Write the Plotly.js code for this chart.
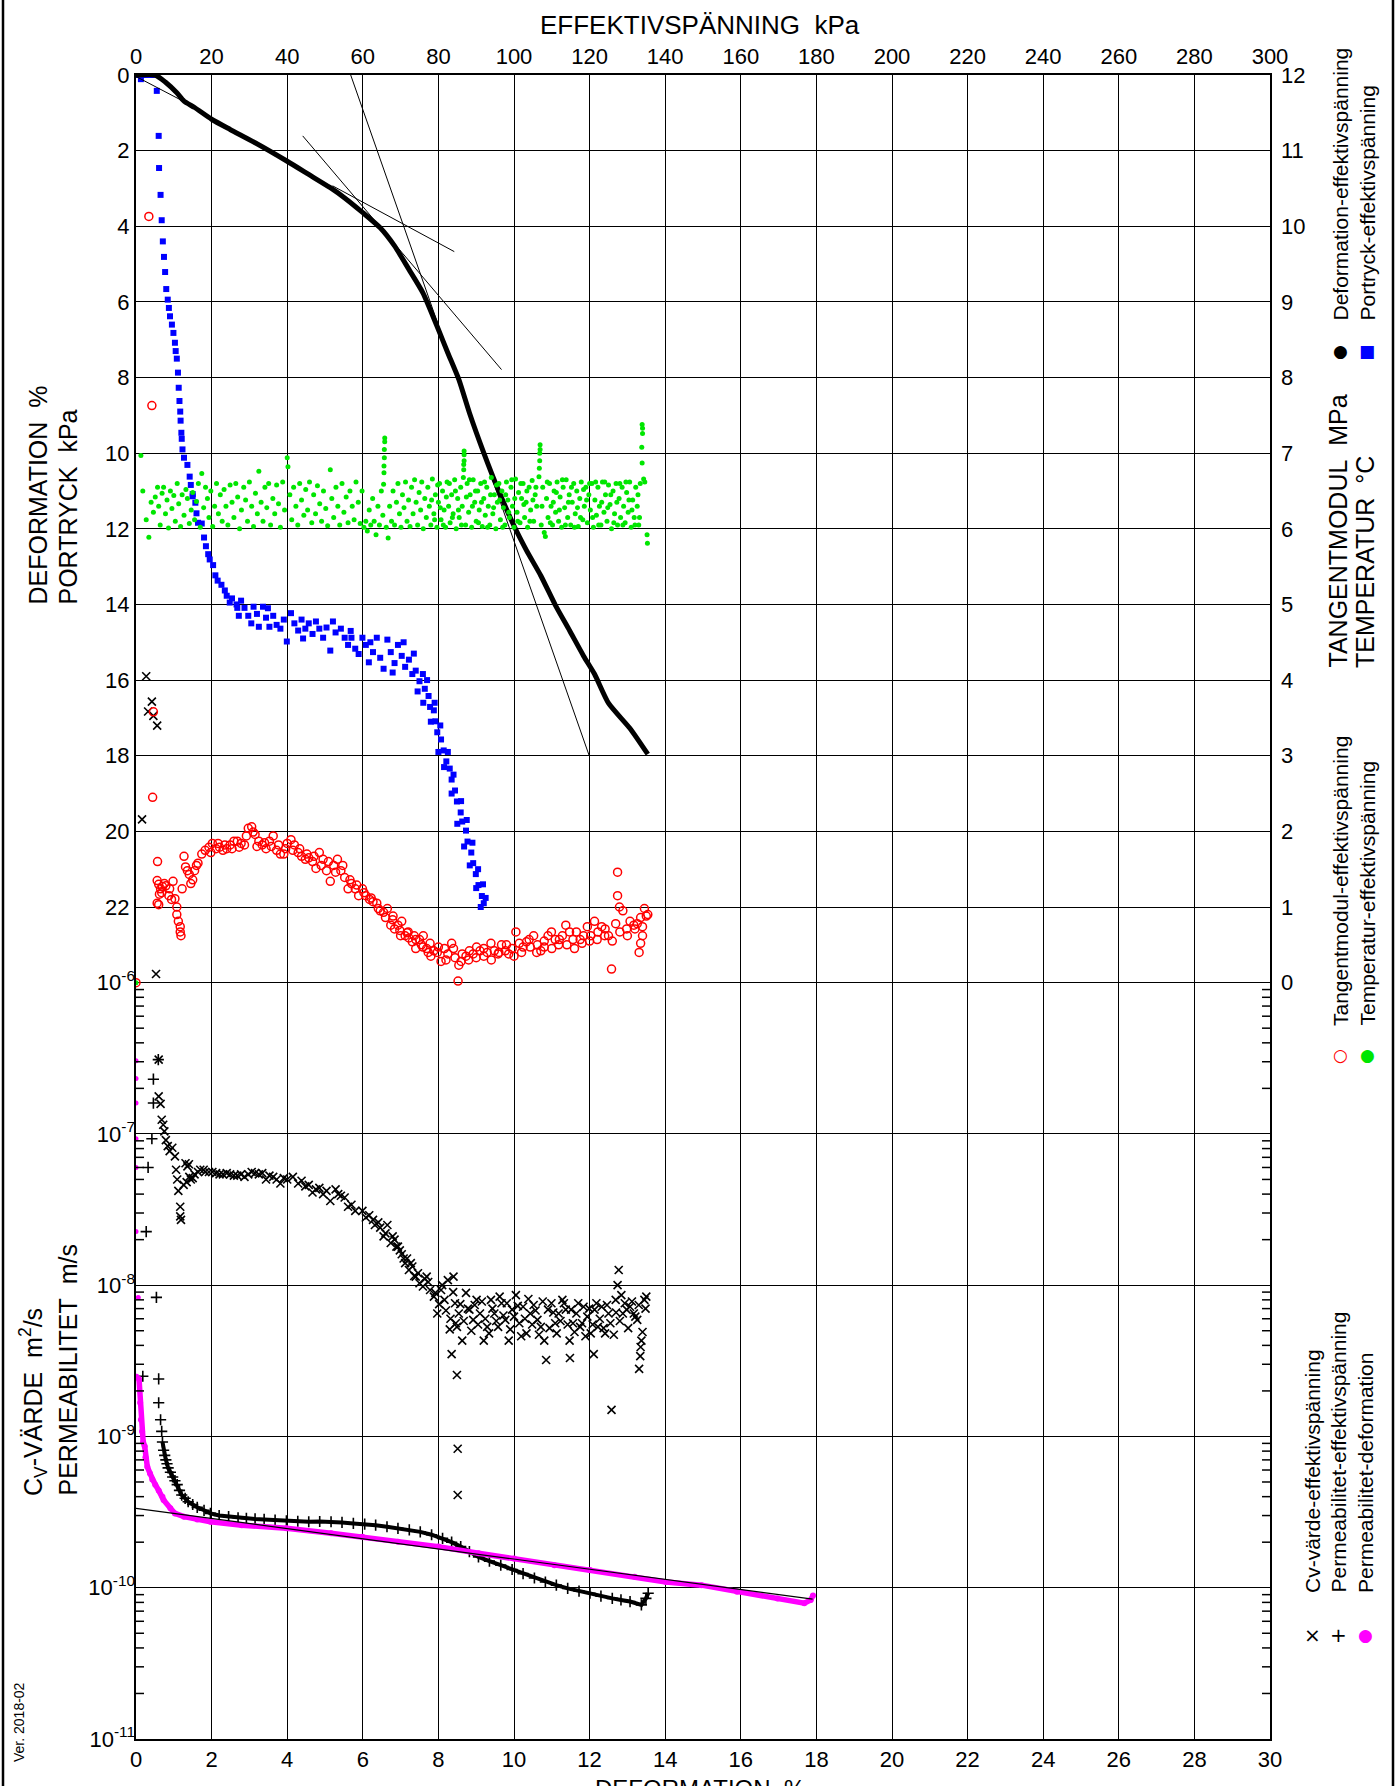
<!DOCTYPE html>
<html>
<head>
<meta charset="utf-8">
<script src="https://cdn.plot.ly/plotly-3.0.1.min.js"></script>
<style>
  html, body { margin: 0; padding: 0; background: #fff; }
  #chart { width: 1399px; height: 1786px; }
</style>
</head>
<body>
<div id="chart"></div>
<script>
// ---- Axis ticks -------------------------------------------------------
const stressTicks = [0, 20, 40, 60, 80, 100, 120, 140, 160, 180, 200, 220, 240, 260, 280, 300];
const deformationTicks = [0, 2, 4, 6, 8, 10, 12, 14, 16, 18, 20, 22, 24, 26, 28, 30];
const leftLinearTicks = [0, 2, 4, 6, 8, 10, 12, 14, 16, 18, 20, 22];
const rightTicks = [0, 1, 2, 3, 4, 5, 6, 7, 8, 9, 10, 11, 12];
const logTicks = [1e-6, 1e-7, 1e-8, 1e-9, 1e-10, 1e-11];
const logTickText = ['10<sup>-6</sup>', '10<sup>-7</sup>', '10<sup>-8</sup>', '10<sup>-9</sup>', '10<sup>-10</sup>', '10<sup>-11</sup>'];

// ---- Deformation (%) vs effective stress (kPa) -------------------------
const deformationCurve = [
  [0,0],[5.1,0],[7.9,0.2],[10.8,0.47],[12.7,0.69],[15.5,0.86],[20,1.17],[24.9,1.44],[31.5,1.79],
  [40,2.28],[45.7,2.63],[51.4,2.98],[55.2,3.25],[60,3.64],[64.6,4.04],[68.4,4.52],[72.2,5.14],
  [75.9,5.76],[80,6.73],[82.5,7.35],[85.4,8.05],[88.2,8.93],[92,9.99],[95.8,10.96],[99.9,11.9],
  [103.3,12.57],[107.1,13.24],[110.9,14.01],[114.7,14.69],[118.4,15.36],[121.3,15.84],[125,16.61],
  [130.7,17.28],[135.4,17.96]
];

// Construction lines drawn on the deformation curve
const tangentLines = [
  [[0, 0.04], [13.2, 0.73]],
  [[52, 2.93], [84.2, 4.67]],
  [[44.1, 1.61], [96.7, 7.79]],
  [[56.8, 0], [119.9, 18]]
];

// ---- Pore pressure (kPa) vs effective stress (kPa) ---------------------
const porePressure = [
  [0,0],[1.3,0.11],[2.3,0],[3.5,0],[4.5,0],[5.1,0],[5.5,0.42],[6.0,1.61],[6.1,2.46],[6.5,3.17],[6.8,3.84],
  [7.1,4.4],[7.4,4.81],[7.7,5.21],[8.0,5.66],[8.4,5.94],[8.7,6.16],[9.0,6.38],[9.5,6.6],[9.9,6.82],
  [10.3,7.08],[10.5,7.3],[10.8,7.5],[11.1,7.87],[11.3,8.27],[11.5,8.62],[11.7,8.9],[11.8,9.14],[12.0,9.46],
  [12.1,9.62],[12.3,9.9],[12.7,10.12],[13.6,10.31],[14.2,10.62],[14.5,10.84],[15.0,11.08],[15.0,11.14],
  [15.7,11.31],[16.0,11.59],[16.4,11.84],[17.4,11.86],[18.0,12.23],[18.5,12.46],[19.1,12.67],[19.5,12.81],
  [20.4,12.96],[21.0,13.23],[21.6,13.37],[22.6,13.48],[23.5,13.63],[24.0,13.77],[24.8,13.95],[25.4,13.84],
  [26.6,14.0],[27.8,13.9],[26.8,14.09],[27.2,14.3],[28.7,14.09],[29.7,14.3],[30.5,14.5],[31.1,14.06],
  [32.0,14.25],[33.6,14.06],[32.5,14.59],[34.4,14.35],[34.9,14.1],[35.3,14.59],[36.3,14.3],[37.2,14.54],
  [38.2,14.64],[39.1,14.4],[39.9,14.98],[41.0,14.23],[41.9,14.5],[42.9,14.69],[43.8,14.4],[44.2,14.9],
  [44.8,14.64],[45.7,14.5],[46.7,14.78],[47.6,14.45],[48.5,14.64],[49.5,14.88],[50.4,14.61],[51.4,15.22],
  [52.1,14.45],[52.8,14.74],[54.2,14.64],[55.2,14.88],[56.1,15.07],[56.8,14.7],[57.0,14.88],[58.0,15.17],
  [58.9,15.31],[59.9,14.88],[60.8,15.07],[61.6,15.53],[62.0,15.0],[62.7,15.26],[63.7,14.88],[64.6,15.41],
  [65.5,15.7],[66.5,14.93],[67.4,15.26],[67.9,15.8],[68.4,15.55],[69.3,15.07],[70.3,15.36],[70.8,15.0],
  [71.2,15.65],[72.2,15.46],[73.1,15.84],[73.5,15.3],[74.0,15.75],[74.5,16.3],[75.0,16.03],[75.9,15.84],
  [76.0,16.6],[76.4,16.23],[77.0,16.0],[77.4,16.42],[77.8,16.71],[78.0,17.1],[78.8,16.8],[79.0,16.6],
  [79.2,17.09],[79.7,17.38],[80.0,17.9],[80.5,17.2],[80.7,17.57],[81.4,17.86],[81.5,18.3],[82.1,18.15],
  [82.5,17.9],[83.0,18.34],[83.5,18.63],[83.5,19.0],[84.0,18.5],[84.4,18.92],[84.9,19.21],[85.0,19.8],
  [85.9,19.5],[86.0,19.2],[86.3,19.74],[86.8,20.4],[87.3,19.98],[87.5,19.7],[87.7,20.27],[88.3,20.9],
  [88.7,20.56],[89.0,20.3],[89.2,20.84],[89.9,21.13],[90.0,21.5],[90.5,21.0],[90.6,21.42],[91.2,22.0],
  [91.5,21.71],[91.8,21.4],[92.0,21.9],[92.5,21.76]
];

// ---- Tangent modulus (MPa) vs effective stress (kPa) -------------------
const tangentModulus = [
  [0,0],[3.4,10.13],[4.2,7.63],[4.6,3.58],[4.4,2.45],[5.7,1.60],[5.6,1.35],[6.0,1.30],[6.5,1.24],[7.0,1.27],
  [7.5,1.31],[7.9,1.28],[8.9,1.24],[9.8,1.34],[6.2,1.17],[6.8,1.19],[5.6,1.05],[6.0,1.03],[8.7,1.15],
  [9.4,1.10],[10.3,1.11],[10.8,1.00],[10.8,0.90],[11.2,0.81],[11.7,0.74],[11.7,0.67],[11.9,0.62],
  [12.2,1.24],[12.7,1.67],[13.1,1.53],[13.6,1.48],[14.1,1.43],[14.5,1.31],[15.0,1.36],[15.5,1.48],
  [16.0,1.55],[16.4,1.58],[17.4,1.70],[18.3,1.75],[19.3,1.79],[19.8,1.72],[20.2,1.84],[21.2,1.77],
  [21.7,1.84],[22.1,1.79],[23.0,1.75],[23.5,1.82],[24.0,1.77],[24.9,1.82],[25.4,1.77],[25.9,1.87],
  [26.8,1.87],[27.3,1.79],[27.8,1.84],[28.7,1.82],[29.2,1.94],[29.7,2.04],[30.6,2.06],[31.0,1.99],
  [31.5,1.96],[32.0,1.80],[32.5,1.87],[33.4,1.82],[34.0,1.85],[34.4,1.77],[35.3,1.87],[35.8,1.80],
  [36.3,1.94],[37.2,1.75],[37.7,1.82],[38.2,1.70],[39.1,1.70],[39.6,1.77],[40.0,1.84],[41.0,1.89],
  [41.5,1.75],[41.9,1.82],[42.9,1.72],[43.3,1.77],[43.8,1.67],[44.8,1.63],[45.2,1.70],[45.7,1.65],
  [46.7,1.60],[47.1,1.67],[47.6,1.51],[48.5,1.72],[49.0,1.55],[49.5,1.63],[50.4,1.48],[50.9,1.60],
  [51.4,1.34],[52.3,1.55],[52.8,1.46],[53.3,1.63],[54.2,1.48],[54.7,1.55],[55.2,1.39],[56.1,1.24],
  [56.6,1.36],[57.0,1.31],[58.0,1.24],[58.4,1.29],[58.9,1.15],[59.9,1.24],[60.3,1.19],[60.8,1.15],
  [61.8,1.10],[62.2,1.12],[62.7,1.07],[63.7,1.05],[64.1,0.98],[64.6,0.95],[65.5,0.93],[66.0,0.86],
  [66.5,0.98],[67.4,0.76],[67.9,0.83],[68.0,0.88],[68.4,0.71],[69.3,0.76],[69.8,0.69],[70.0,0.62],
  [70.3,0.81],[71.2,0.62],[71.7,0.66],[72.0,0.67],[72.2,0.59],[73.1,0.54],[73.6,0.62],[74.0,0.57],
  [74.0,0.45],[75.0,0.57],[75.5,0.50],[75.9,0.47],[76.0,0.62],[76.9,0.45],[77.3,0.40],[77.8,0.52],
  [78.0,0.35],[78.8,0.42],[79.7,0.40],[80.0,0.47],[80.7,0.28],[81.6,0.45],[82.0,0.30],[82.5,0.38],
  [83.5,0.52],[84.0,0.45],[84.4,0.33],[85.2,0.02],[85.4,0.23],[86.0,0.28],[86.3,0.38],[87.3,0.35],
  [88.0,0.30],[88.2,0.42],[89.2,0.38],[90.0,0.33],[90.1,0.47],[91.0,0.42],[92.0,0.35],[92.0,0.45],
  [92.9,0.40],[93.9,0.52],[94.0,0.30],[94.8,0.42],[95.8,0.38],[96.0,0.40],[96.7,0.50],[97.7,0.42],
  [98.0,0.50],[98.6,0.38],[99.5,0.45],[100.0,0.35],[100.5,0.67],[101.4,0.52],[102.0,0.40],[102.4,0.47],
  [103.3,0.54],[104.0,0.57],[104.3,0.47],[105.2,0.62],[106.0,0.40],[106.2,0.50],[107.1,0.42],[108.0,0.47],
  [108.0,0.55],[109.0,0.62],[109.9,0.67],[110.0,0.45],[110.9,0.57],[111.8,0.50],[112.0,0.57],[112.8,0.62],
  [113.7,0.76],[114.0,0.50],[114.7,0.67],[115.6,0.57],[116.0,0.45],[116.5,0.67],[117.5,0.57],[118.0,0.52],
  [118.4,0.62],[119.4,0.74],[120.0,0.55],[120.3,0.62],[121.3,0.81],[122.0,0.57],[122.2,0.67],[123.2,0.74],
  [124.0,0.62],[124.1,0.71],[125.0,0.62],[125.8,0.18],[126.0,0.55],[126.9,0.78],[127.4,1.46],[127.4,1.15],
  [127.9,1.00],[128.0,0.67],[128.8,0.95],[129.8,0.71],[130.0,0.62],[130.7,0.81],[131.7,0.76],[132.0,0.71],
  [132.6,0.78],[133.5,0.86],[134.0,0.62],[133.5,0.52],[133.1,0.40],[134.0,0.74],[134.5,0.98],[135.0,0.88],
  [135.4,0.90]
];

// ---- Temperature (°C) vs effective stress (kPa) ------------------------
const temperature = [
  [0,0],[1.3,6.97],[1.8,6.5],[2.7,6.12],[3.4,5.89],[4.0,6.35],[4.6,6.22],[5.1,6.42],[5.7,6.55],[6.0,6.3],
  [6.4,6.05],[6.9,6.47],[7.3,6.55],[7.8,6.2],[8.2,6.38],[8.6,6.01],[9.1,6.5],[9.5,6.27],[10.0,6.44],
  [10.4,6.1],[10.9,6.6],[11.3,6.33],[11.8,6.03],[12.2,6.45],[12.7,6.18],[13.2,6.52],[13.6,6.4],[14.1,6.07],
  [14.6,6.25],[15.0,6.48],[15.5,6.12],[16.0,6.36],[16.5,6.6],[17.0,6.02],[17.4,6.73],[17.9,6.28],
  [18.4,6.55],[18.9,6.4],[19.3,6.15],[19.8,6.5],[20.3,6.03],[20.8,6.3],[21.3,6.6],[21.8,6.2],[22.3,6.45],
  [22.8,6.1],[23.3,6.52],[23.8,6.3],[24.3,6.05],[24.9,6.58],[25.4,6.35],[25.9,6.15],[26.4,6.6],[26.9,6.42],
  [27.4,6.0],[27.9,6.25],[28.5,6.55],[29.0,6.38],[29.5,6.1],[30.0,6.62],[30.6,6.3],[31.1,6.03],[31.6,6.47],
  [32.1,6.2],[32.5,6.76],[33.1,6.35],[33.6,6.1],[34.1,6.55],[34.6,6.28],[35.1,6.6],[35.6,6.05],[36.2,6.4],
  [36.7,6.2],[37.2,6.58],[37.7,6.33],[38.2,6.02],[38.8,6.62],[39.3,6.25],[40.0,6.94],[40.2,6.82],
  [40.7,6.45],[41.2,6.12],[41.7,6.55],[42.3,6.3],[42.8,6.05],[43.3,6.6],[43.8,6.38],[44.4,6.18],[44.9,6.52],
  [45.4,6.25],[45.9,6.62],[46.5,6.08],[47.0,6.45],[47.5,6.2],[48.0,6.57],[48.6,6.33],[49.1,6.1],[49.6,6.5],
  [50.2,6.27],[50.7,6.04],[51.4,6.78],[51.8,6.4],[52.3,6.15],[52.9,6.55],[53.4,6.3],[53.9,6.05],[54.5,6.6],
  [55.0,6.22],[55.6,6.42],[56.1,6.08],[56.6,6.5],[57.2,6.3],[57.7,6.12],[58.2,6.62],[58.8,6.35],[59.3,6.07],
  [59.8,6.5],[60.3,6.02],[60.8,6.1],[61.2,5.97],[61.7,6.25],[62.1,6.05],[62.6,6.4],[63.0,6.1],[63.5,5.92],
  [64.0,6.3],[64.4,6.05],[64.9,6.5],[65.3,6.18],[65.8,7.2],[65.8,7.15],[65.7,7.05],[65.7,6.94],[65.6,6.83],
  [65.6,6.74],[65.5,6.59],[66.2,6.02],[66.7,5.88],[67.1,6.3],[67.6,6.1],[68.0,6.5],[68.4,6.05],[68.9,6.35],
  [69.3,6.6],[69.7,6.2],[70.1,6.02],[70.5,6.45],[70.9,6.28],[71.3,6.62],[71.7,6.1],[72.1,6.38],[72.5,6.03],
  [72.9,6.55],[73.3,6.2],[73.7,6.65],[74.1,6.35],[74.5,6.05],[74.9,6.48],[75.3,6.25],[75.6,6.62],[76.0,6.0],
  [76.4,6.4],[76.8,6.15],[77.2,6.55],[77.6,6.3],[78.0,6.05],[78.2,6.38],[78.4,6.66],[78.8,6.2],[79.0,6.12],
  [79.2,6.45],[79.6,6.02],[79.8,6.58],[80.0,6.35],[80.3,6.6],[80.5,6.28],[80.7,6.12],[81.1,6.5],[81.3,6.05],
  [81.5,6.25],[81.9,6.02],[82.1,6.42],[82.3,6.62],[82.7,6.3],[82.9,6.6],[83.1,6.08],[83.5,6.45],[83.7,6.15],
  [83.9,6.2],[84.3,6.65],[84.5,6.5],[84.7,6.0],[85.1,6.4],[85.3,6.25],[85.5,6.15],[85.9,6.55],[86.1,6.05],
  [86.3,6.3],[86.8,7.03],[86.8,6.98],[86.8,6.9],[86.7,6.85],[86.7,6.78],[86.6,6.68],[87.2,6.05],[87.4,6.42],
  [87.6,6.6],[88.0,6.22],[88.2,6.65],[88.4,6.45],[88.8,6.02],[89.0,6.3],[89.2,6.65],[89.6,6.35],[89.8,6.5],
  [90.0,6.1],[90.4,6.5],[90.6,6.08],[90.8,6.25],[91.2,6.6],[91.4,6.35],[91.6,6.03],[92.0,6.4],[92.2,6.62],
  [92.4,6.18],[92.8,6.55],[93.0,6.02],[93.2,6.3],[93.6,6.05],[93.8,6.45],[94.0,6.68],[94.4,6.2],[94.6,6.28],
  [94.8,6.45],[95.2,6.0],[95.4,6.58],[95.6,6.35],[96.0,6.6],[96.2,6.38],[96.4,6.12],[96.8,6.5],[97.0,6.02],
  [97.2,6.28],[97.6,6.05],[97.8,6.45],[98.0,6.62],[98.4,6.38],[98.6,6.22],[98.8,6.15],[99.2,6.55],[99.4,6.65],
  [99.6,6.3],[100.0,6.02],[100.2,6.4],[100.4,6.66],[100.8,6.22],[101.0,6.1],[101.2,6.48],[101.6,6.08],
  [101.8,6.6],[102.0,6.4],[102.4,6.6],[102.6,6.32],[102.8,6.15],[103.2,6.35],[103.4,6.5],[103.6,6.02],
  [104.0,6.55],[104.2,6.1],[104.4,6.25],[104.8,6.64],[105.0,6.38],[105.2,6.1],[105.6,6.45],[105.8,6.55],
  [106.0,6.3],[106.9,7.11],[106.9,7.05],[106.8,7.0],[106.8,6.9],[106.7,6.8],[106.6,6.69],[107.2,6.05],
  [107.4,6.3],[107.6,6.55],[108.0,5.95],[108.3,5.9],[108.6,6.4],[108.8,6.62],[109.0,6.15],[109.4,6.6],
  [109.6,6.08],[109.8,6.3],[110.2,6.05],[110.4,6.35],[110.6,6.5],[111.0,6.22],[111.2,6.48],[111.4,6.62],
  [111.8,6.1],[112.0,6.25],[112.2,6.42],[112.6,6.02],[112.8,6.65],[113.0,6.55],[113.4,6.28],[113.6,6.05],
  [113.8,6.65],[114.2,6.15],[114.4,6.35],[114.6,6.45],[115.0,6.05],[115.2,6.55],[115.4,6.35],[115.8,6.6],
  [116.0,6.02],[116.2,6.2],[116.6,6.5],[116.8,6.28],[117.0,6.03],[117.4,6.4],[117.6,6.15],[117.8,6.62],
  [118.2,6.12],[118.4,6.52],[118.6,6.3],[119.0,6.55],[119.2,6.38],[119.4,6.08],[119.8,6.45],[120.0,6.6],
  [120.2,6.25],[120.6,6.6],[120.8,6.15],[121.0,6.02],[121.4,6.38],[121.6,6.62],[121.8,6.18],[122.2,6.55],
  [122.4,6.05],[122.6,6.3],[123.0,6.05],[123.2,6.35],[123.4,6.62],[123.8,6.22],[124.0,6.62],[124.2,6.45],
  [124.6,6.1],[124.8,6.28],[125.0,6.58],[125.4,6.32],[125.6,6.45],[125.8,6.0],[126.2,6.5],[126.4,6.08],
  [126.6,6.2],[127.0,6.6],[127.2,6.35],[127.4,6.05],[127.8,6.4],[128.0,6.6],[128.2,6.15],[128.6,6.55],
  [128.8,6.05],[129.0,6.3],[129.4,6.08],[129.6,6.62],[129.8,6.48],[130.2,6.22],[130.4,6.38],[130.6,6.62],
  [131.0,6.02],[131.2,6.25],[131.4,6.38],[131.8,6.15],[132.0,6.05],[132.2,6.55],[132.6,6.3],[132.8,6.45],
  [133.0,6.05],[133.2,6.15],[133.4,6.6],[133.9,7.38],[134.0,7.33],[134.0,7.26],[133.8,7.08],[133.9,6.87],
  [134.3,6.66],[134.6,6.62],[135.2,5.92],[135.3,5.81]
];

// ---- Consolidation coefficient cv (m2/s) vs effective stress (kPa) -----
const cvValues = [
  [2.7,1.06e-4],[4.2,7.2e-5],[3.2,6.2e-5],[4.6,5.8e-5],[5.6,5.0e-5],[1.6,1.2e-5],[5.3,1.14e-6],
  [6.0,3.1e-7],[6.0,1.77e-7],[6.5,1.58e-7],[6.8,1.24e-7],[7.2,1.15e-7],[7.5,1.04e-7],[7.9,9.1e-8],
  [8.4,8.3e-8],[8.9,7.7e-8],[9.6,8.1e-8],[10.3,7.1e-8],[10.6,5.8e-8],[10.9,5.0e-8],[11.2,4.2e-8],
  [11.7,3.3e-8],[11.9,2.7e-8],[11.7,2.85e-8],[12.6,4.6e-8],[13.1,6.4e-8],[13.4,4.8e-8],[13.6,6.1e-8],
  [14.0,6.3e-8],[14.1,5.2e-8],[14.5,5.0e-8],[15.0,5.1e-8],[15.5,5.4e-8],[16.4,5.6e-8],[17.0,5.8e-8],
  [17.9,5.8e-8],[18.3,5.6e-8],[19.3,5.6e-8],[20.2,5.6e-8],[21.2,5.5e-8],[22.1,5.4e-8],[23.0,5.4e-8],
  [24.0,5.5e-8],[24.9,5.4e-8],[25.9,5.3e-8],[26.8,5.3e-8],[27.8,5.4e-8],[28.7,5.2e-8],[29.7,5.4e-8],
  [30.6,5.6e-8],[31.5,5.5e-8],[32.5,5.4e-8],[33.4,5.5e-8],[34.4,5.0e-8],[35.3,5.3e-8],[36.3,5.2e-8],
  [37.2,5.0e-8],[38.2,4.7e-8],[39.1,5.1e-8],[40.0,5.0e-8],[41.5,5.2e-8],[42.9,4.7e-8],[43.8,4.9e-8],
  [44.8,4.5e-8],[45.7,4.6e-8],[46.7,4.1e-8],[47.6,4.3e-8],[48.5,4.4e-8],[49.5,4.0e-8],[50.4,4.2e-8],
  [51.4,3.6e-8],[52.8,4.3e-8],[53.5,4.0e-8],[54.2,3.9e-8],[55.2,3.8e-8],[56.1,3.3e-8],[57.0,3.4e-8],
  [58.0,3.1e-8],[59.9,3.1e-8],[60.8,2.8e-8],[61.7,2.9e-8],[62.7,2.7e-8],[63.2,2.5e-8],[64.1,2.6e-8],
  [64.6,2.4e-8],[65.5,2.1e-8],[66.0,2.2e-8],[66.5,2.5e-8],[67.4,1.9e-8],[67.9,2.1e-8],[68.4,2.0e-8],
  [68.9,1.8e-8],[69.3,1.8e-8],[69.8,1.7e-8],[70.3,1.6e-8],[70.8,1.5e-8],[71.2,1.4e-8],[71.7,1.5e-8],
  [72.2,1.26e-8],[72.7,1.4e-8],[73.1,1.33e-8],[73.6,1.15e-8],[74.0,1.14e-8],[74.6,1.2e-8],[75.0,1.03e-8],
  [75.9,9.8e-9],[76.4,1.1e-8],[76.9,1.14e-8],[77.3,1.05e-8],[77.8,9.3e-9],[78.8,8.4e-9],[79.2,8.9e-9],
  [79.7,6.5e-9],[80.2,7.5e-9],[80.7,9.3e-9],[81.0,1.0e-8],[81.6,8.0e-9],[82.0,6.8e-9],[82.5,1.08e-8],
  [83.0,5.1e-9],[83.2,6.0e-9],[83.5,3.5e-9],[83.9,9.0e-9],[84.0,1.14e-8],[84.4,7.6e-9],[84.6,5.6e-9],
  [84.9,2.55e-9],[84.9,5.3e-9],[85.1,8.3e-10],[85.1,4.1e-10],[85.4,6.5e-9],[85.8,7.5e-9],[86.3,4.3e-9],
  [86.7,5.8e-9],[87.3,8.9e-9],[87.8,7.0e-9],[88.2,6.9e-9],[88.7,5.0e-9],[89.2,5.9e-9],[89.6,7.4e-9],
  [90.1,8.0e-9],[90.5,5.5e-9],[91.0,6.5e-9],[91.5,7.8e-9],[92.0,4.3e-9],[92.4,6.0e-9],[92.9,5.3e-9],
  [93.4,4.8e-9],[93.9,8.0e-9],[94.3,7.0e-9],[94.8,6.5e-9],[95.3,5.8e-9],[95.8,5.3e-9],[96.2,8.4e-9],
  [96.7,7.6e-9],[97.2,6.3e-9],[97.7,5.9e-9],[98.1,7.6e-9],[98.6,4.3e-9],[99.0,5.1e-9],[99.5,6.9e-9],
  [100.0,6.2e-9],[100.5,8.6e-9],[101.0,7.3e-9],[101.4,5.6e-9],[101.9,4.6e-9],[102.4,7.2e-9],[102.9,6.0e-9],
  [103.3,4.8e-9],[103.8,8.1e-9],[104.3,6.5e-9],[104.8,5.5e-9],[105.2,7.4e-9],[105.7,6.8e-9],[106.2,5.9e-9],
  [106.6,4.7e-9],[107.1,5.3e-9],[107.6,7.8e-9],[108.0,4.3e-9],[108.5,3.2e-9],[109.0,6.9e-9],[109.4,5.2e-9],
  [109.9,7.6e-9],[110.4,6.6e-9],[110.9,5.6e-9],[111.3,4.8e-9],[111.8,6.5e-9],[112.3,5.8e-9],[112.8,8.0e-9],
  [113.2,7.6e-9],[113.7,6.9e-9],[114.2,5.5e-9],[114.7,4.3e-9],[114.8,3.3e-9],[115.1,6.9e-9],[115.6,5.6e-9],
  [116.0,4.9e-9],[116.5,6.5e-9],[117.0,7.6e-9],[117.5,5.3e-9],[118.0,5.6e-9],[118.4,7.2e-9],[118.9,4.6e-9],
  [119.4,6.2e-9],[119.9,7.0e-9],[120.3,4.8e-9],[120.8,5.5e-9],[121.1,3.5e-9],[121.3,6.9e-9],[121.8,7.6e-9],
  [122.2,5.3e-9],[122.7,6.0e-9],[123.2,7.2e-9],[123.7,5.2e-9],[124.1,4.8e-9],[124.6,7.4e-9],[125.0,6.5e-9],
  [125.5,5.6e-9],[125.8,1.5e-9],[126.4,4.7e-9],[126.9,8.0e-9],[127.0,6.6e-9],[127.4,1.0e-8],[127.7,1.26e-8],
  [128.0,5.8e-9],[128.4,8.6e-9],[128.8,6.5e-9],[129.3,7.6e-9],[129.8,6.9e-9],[130.2,5.2e-9],[130.7,7.2e-9],
  [131.2,7.8e-9],[131.7,6.5e-9],[132.1,6.2e-9],[132.6,5.9e-9],[133.0,7.4e-9],[133.1,2.8e-9],[133.4,3.4e-9],
  [133.5,3.9e-9],[133.7,4.3e-9],[134.0,4.9e-9],[134.5,8.0e-9],[134.8,7.0e-9],[135.0,8.4e-9]
];

// ---- Permeability (m/s) vs effective stress (kPa) ----------------------
const permStressEarly = [
  [5.9,3.1e-7],[4.6,2.3e-7],[4.6,1.6e-7],[4.2,9.3e-8],[3.2,6.0e-8],[2.7,2.26e-8],[5.4,8.3e-9],
  [1.8,2.5e-9],[6.0,2.4e-9],[6.0,1.67e-9],[6.5,1.29e-9],[6.8,1.08e-9]
];
const permStress = [
  [7.0,9.2e-10],[7.3,8.1e-10],[7.6,7.5e-10],[7.9,7.0e-10],[8.2,6.6e-10],[8.5,6.2e-10],[9.1,5.8e-10],
  [9.7,5.4e-10],[10.3,5.1e-10],[10.9,4.8e-10],[11.5,4.4e-10],[12.1,4.1e-10],[13.0,3.9e-10],[13.8,3.7e-10],
  [15.0,3.55e-10],[16.2,3.4e-10],[18.0,3.25e-10],[19.7,3.1e-10],[22.0,3.0e-10],[24.5,2.95e-10],
  [27.0,2.9e-10],[29.2,2.87e-10],[31.5,2.85e-10],[33.9,2.83e-10],[36.8,2.8e-10],[39.8,2.77e-10],
  [42.8,2.75e-10],[45.7,2.73e-10],[48.6,2.74e-10],[51.6,2.73e-10],[54.5,2.7e-10],[57.5,2.66e-10],
  [60.5,2.63e-10],[63.4,2.59e-10],[66.4,2.53e-10],[69.3,2.47e-10],[72.3,2.41e-10],[75.2,2.34e-10],
  [78.2,2.24e-10],[81.1,2.12e-10],[83.5,2.0e-10],[85.9,1.87e-10],[88.2,1.73e-10],[90.6,1.6e-10],
  [93.5,1.5e-10],[96.5,1.41e-10],[99.5,1.32e-10],[102.4,1.24e-10],[105.4,1.16e-10],[108.3,1.09e-10],
  [111.2,1.04e-10],[114.2,9.9e-11],[117.2,9.5e-11],[120.1,9.2e-11],[123.0,8.8e-11],[126.0,8.5e-11],
  [128.3,8.3e-11],[130.7,8.1e-11],[133.7,7.7e-11],[134.9,8.5e-11],[135.5,9.2e-11]
];

// ---- Permeability (m/s) vs deformation (%) -----------------------------
const permDeformationEarly = [
  [0,3.05e-7],[0,2.32e-7],[0,1.6e-7],[0,9.3e-8],[0,6.0e-8],[0,2.26e-8],[0.06,8.3e-9],[0.02,2.5e-9]
];
const permDeformation = [
  [0.08,2.4e-9],[0.11,1.67e-9],[0.13,1.29e-9],[0.16,1.08e-9],[0.19,9.2e-10],[0.23,8.6e-10],[0.25,7.3e-10],
  [0.30,6.3e-10],[0.37,5.7e-10],[0.43,5.2e-10],[0.51,4.8e-10],[0.6,4.4e-10],[0.7,4.0e-10],[0.73,3.8e-10],
  [0.91,3.35e-10],[1.03,3.1e-10],[1.27,2.95e-10],[1.62,2.83e-10],[1.97,2.73e-10],[2.8,2.59e-10],
  [3.98,2.47e-10],[5.16,2.29e-10],[5.99,2.17e-10],[6.93,2.01e-10],[8.0,1.87e-10],[9.06,1.69e-10],
  [10.0,1.56e-10],[11.07,1.41e-10],[12.01,1.31e-10],[13.19,1.18e-10],[14.02,1.09e-10],[14.96,1.04e-10],
  [15.9,9.4e-11],[16.97,8.5e-11],[17.68,7.9e-11],[17.85,8.3e-11],[17.91,8.9e-11]
];
// Straight-line fit through the permeability-deformation data
const permFitLine = [[0, 3.35e-10], [17.9, 8.4e-11]];

// ---- Helpers ------------------------------------------------------------
const col = (arr, i) => arr.map(p => p[i]);
const FONT = 'Liberation Sans, Arial, sans-serif';
const SYM = 'DejaVu Sans, sans-serif';
const W = 1399, H = 1786, ML = 136, MR = 129, MT = 75, MB = 47;
const PW = W - ML - MR, PH = H - MT - MB;
const px = x => (x - ML) / PW;
const py = y => 1 - (y - MT) / PH;
const LOG_MIN = -11, LOG_MAX = 0;   // log axis spans the full plot height
const logPaper = v => (Math.log10(v) - LOG_MIN) / (LOG_MAX - LOG_MIN);

// Axes: x = effective stress (top), x2 = deformation (bottom),
//       y = deformation / pore pressure, y3 = cv / permeability (log),
//       y4 = tangent modulus / temperature (right)
const traces = [
  { // temperature
    x: col(temperature, 0), y: col(temperature, 1), xaxis: 'x', yaxis: 'y4',
    type: 'scatter', mode: 'markers', hoverinfo: 'skip',
    marker: { symbol: 'circle', size: 5, color: '#00e600' }
  },
  { // tangent modulus
    x: col(tangentModulus, 0), y: col(tangentModulus, 1), xaxis: 'x', yaxis: 'y4',
    type: 'scatter', mode: 'markers', hoverinfo: 'skip',
    marker: { symbol: 'circle-open', size: 8, color: '#ff0000', line: { width: 1.5, color: '#ff0000' } }
  },
  { // pore pressure
    x: col(porePressure, 0), y: col(porePressure, 1), xaxis: 'x', yaxis: 'y',
    type: 'scatter', mode: 'markers', hoverinfo: 'skip',
    marker: { symbol: 'square', size: 6, color: '#0000ff' }
  },
  { // deformation
    x: col(deformationCurve, 0), y: col(deformationCurve, 1), xaxis: 'x', yaxis: 'y',
    type: 'scatter', mode: 'lines', hoverinfo: 'skip',
    line: { color: '#000', width: 5, shape: 'spline', smoothing: 0.6 }
  },
  { // construction lines
    x: tangentLines.flatMap(s => [s[0][0], s[1][0], null]),
    y: tangentLines.flatMap(s => [s[0][1], s[1][1], null]),
    xaxis: 'x', yaxis: 'y', type: 'scatter', mode: 'lines', hoverinfo: 'skip',
    line: { color: '#000', width: 1 }
  },
  { // cv
    x: col(cvValues, 0), y: col(cvValues, 1), xaxis: 'x', yaxis: 'y3',
    type: 'scatter', mode: 'markers', hoverinfo: 'skip',
    marker: { symbol: 'x-thin-open', size: 8, color: '#000', line: { width: 1.6, color: '#000' } }
  },
  { // permeability vs stress, first readings
    x: col(permStressEarly, 0), y: col(permStressEarly, 1), xaxis: 'x', yaxis: 'y3',
    type: 'scatter', mode: 'markers', hoverinfo: 'skip',
    marker: { symbol: 'cross-thin-open', size: 8, color: '#000', line: { width: 1.6, color: '#000' } }
  },
  { // permeability vs deformation, first readings
    x: col(permDeformationEarly, 0), y: col(permDeformationEarly, 1), xaxis: 'x2', yaxis: 'y3',
    type: 'scatter', mode: 'markers', hoverinfo: 'skip',
    marker: { symbol: 'circle', size: 5, color: '#ff00ff' }
  },
  { // permeability vs deformation
    x: col(permDeformation, 0), y: col(permDeformation, 1), xaxis: 'x2', yaxis: 'y3',
    type: 'scatter', mode: 'lines+markers', hoverinfo: 'skip',
    line: { color: '#ff00ff', width: 5.5 },
    marker: { symbol: 'circle', size: 6, color: '#ff00ff' }
  },
  { // permeability vs stress
    x: col(permStress, 0), y: col(permStress, 1), xaxis: 'x', yaxis: 'y3',
    type: 'scatter', mode: 'lines+markers', hoverinfo: 'skip',
    line: { color: '#000', width: 4 },
    marker: { symbol: 'cross-thin-open', size: 8, color: '#000', line: { width: 1.6, color: '#000' } }
  },
  { // fit line
    x: col(permFitLine, 0), y: col(permFitLine, 1), xaxis: 'x2', yaxis: 'y3',
    type: 'scatter', mode: 'lines', hoverinfo: 'skip',
    line: { color: '#000', width: 1.2 }
  }
];

const tickFont = { family: FONT, size: 22, color: '#000' };
const GRID = '#000';

function note(text, x, y, o) {
  return Object.assign({
    text: text, x: px(x), y: py(y), xref: 'paper', yref: 'paper',
    showarrow: false, xanchor: 'center', yanchor: 'middle',
    font: { family: FONT, size: 22, color: '#000' }
  }, o || {});
}
const NB = '\u00a0';
const f = (size, color) => ({ family: FONT, size: size, color: color || '#000' });
const fs = (size, color) => ({ family: SYM, size: size, color: color || '#000' });

const annotations = [
  note('EFFEKTIVSP\u00c4NNING' + NB + NB + 'kPa', 700, 25, { font: f(26) }),
  note('DEFORMATION' + NB + NB + '%', 700, 1773, { yanchor: 'top', font: f(24) }),
  // left titles
  note('DEFORMATION' + NB + NB + '%', 37, 607, { textangle: -90, yanchor: 'bottom', font: f(25) }),
  note('PORTRYCK' + NB + NB + 'kPa', 67, 607, { textangle: -90, yanchor: 'bottom', font: f(25) }),
  note('C<sub>V</sub>-V\u00c4RDE' + NB + NB + 'm<sup>2</sup>/s', 33, 1498, { textangle: -90, yanchor: 'bottom', font: f(25) }),
  note('PERMEABILITET' + NB + NB + 'm/s', 67, 1498, { textangle: -90, yanchor: 'bottom', font: f(25) }),
  // right titles
  note('TANGENTMODUL' + NB + NB + 'MPa', 1337, 670, { textangle: -90, yanchor: 'bottom', font: f(25) }),
  note('TEMPERATUR' + NB + NB + '\u00b0C', 1365, 670, { textangle: -90, yanchor: 'bottom', font: f(25) }),
  // legend, upper group
  note('Deformation-effektivsp\u00e4nning', 1340, 323, { textangle: -90, yanchor: 'bottom', font: f(21) }),
  note('Portryck-effektivsp\u00e4nning', 1367, 323, { textangle: -90, yanchor: 'bottom', font: f(21) }),
  note('\u25cf', 1340, 351, { font: fs(17) }),
  note('\u25a0', 1367, 351, { font: fs(17, '#0000ff') }),
  // legend, middle group
  note('Tangentmodul-effektivsp\u00e4nning', 1340, 1028, { textangle: -90, yanchor: 'bottom', font: f(21) }),
  note('Temperatur-effektivsp\u00e4nning', 1367, 1028, { textangle: -90, yanchor: 'bottom', font: f(21) }),
  note('\u25cb', 1340, 1055, { font: fs(17, '#ff0000') }),
  note('\u25cf', 1367, 1055, { font: fs(17, '#00e600') }),
  // legend, lower group
  note('Cv-v\u00e4rde-effektivsp\u00e4nning', 1312, 1595, { textangle: -90, yanchor: 'bottom', font: f(21) }),
  note('Permeabilitet-effektivsp\u00e4nning', 1338, 1595, { textangle: -90, yanchor: 'bottom', font: f(21) }),
  note('Permeabilitet-deformation', 1365, 1595, { textangle: -90, yanchor: 'bottom', font: f(21) }),
  note('\u00d7', 1312, 1635, { font: fs(20) }),
  note('+', 1338, 1635, { font: fs(20) }),
  note('\u25cf', 1365, 1635, { font: fs(17, '#ff00ff') }),
  // version stamp
  note('Ver. 2018-02', 19, 1722, { textangle: -90, font: f(14) })
];

// frame lines at the page edges
const shapes = [
  { type: 'line', xref: 'paper', yref: 'paper', x0: px(3), x1: px(3), y0: py(0), y1: py(H), line: { color: '#000', width: 2.5 } },
  { type: 'line', xref: 'paper', yref: 'paper', x0: px(1393), x1: px(1393), y0: py(0), y1: py(H), line: { color: '#000', width: 2.5 } }
];
// minor ticks (2..9 per decade) inside both edges of the lower log panel
const TICK_LEN = 8 / PW;
for (let e = -11; e < -6; e++) {
  for (let k = 2; k <= 9; k++) {
    const yy = logPaper(k * Math.pow(10, e));
    shapes.push({ type: 'line', xref: 'paper', yref: 'paper', x0: 0, x1: TICK_LEN, y0: yy, y1: yy, line: { color: '#000', width: 1.5 } });
    shapes.push({ type: 'line', xref: 'paper', yref: 'paper', x0: 1 - TICK_LEN, x1: 1, y0: yy, y1: yy, line: { color: '#000', width: 1.5 } });
  }
}

const layout = {
  width: W, height: H,
  margin: { l: ML, r: MR, t: MT, b: MB, pad: 0 },
  paper_bgcolor: '#fff', plot_bgcolor: '#fff',
  showlegend: false,
  font: { family: FONT, color: '#000' },
  xaxis: {
    side: 'top', anchor: 'y',
    range: [0, 300], tickmode: 'array', tickvals: stressTicks,
    showgrid: true, gridcolor: GRID, gridwidth: 1,
    showline: true, linecolor: '#000', linewidth: 2, ticks: '', zeroline: false,
    tickfont: tickFont, fixedrange: true
  },
  xaxis2: {
    overlaying: 'x', side: 'bottom', anchor: 'y',
    range: [0, 30], tickmode: 'array', tickvals: deformationTicks,
    showgrid: false, showline: true, linecolor: '#000', linewidth: 2, ticks: '', zeroline: false,
    tickfont: tickFont, fixedrange: true
  },
  yaxis: {
    range: [44, 0], tickmode: 'array', tickvals: leftLinearTicks,
    showgrid: true, gridcolor: GRID, gridwidth: 1,
    showline: true, linecolor: '#000', linewidth: 2, mirror: true, ticks: '', zeroline: false,
    tickfont: tickFont, fixedrange: true
  },
  yaxis3: {
    type: 'log', overlaying: 'y', side: 'left', range: [LOG_MIN, LOG_MAX],
    tickmode: 'array', tickvals: logTicks, ticktext: logTickText,
    showgrid: true, gridcolor: GRID, gridwidth: 1, showline: false, ticks: '', zeroline: false,
    tickfont: tickFont, fixedrange: true
  },
  yaxis4: {
    overlaying: 'y', side: 'right', range: [-10, 12],
    tickmode: 'array', tickvals: rightTicks,
    showgrid: false, showline: false, ticks: '', zeroline: false,
    tickfont: tickFont, ticklabelstandoff: 10, fixedrange: true
  },
  annotations: annotations,
  shapes: shapes
};

Plotly.newPlot('chart', traces, layout, { staticPlot: true, displayModeBar: false });
</script>
</body>
</html>
